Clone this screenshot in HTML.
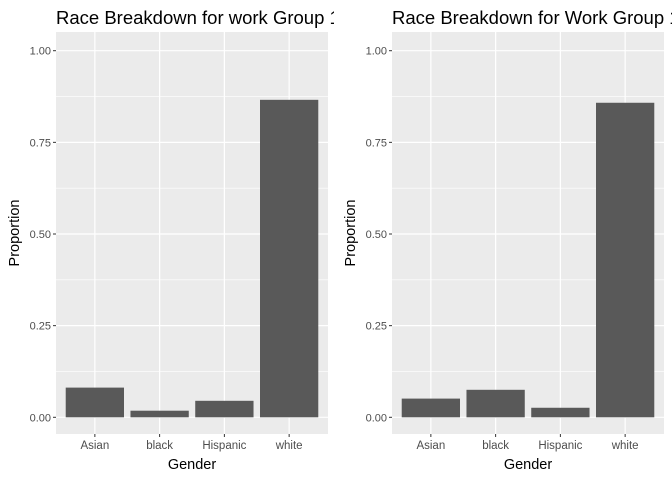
<!DOCTYPE html>
<html><head><meta charset="utf-8"><style>
body{margin:0;background:#fff;}
text{font-family:"Liberation Sans",Arial,sans-serif;}
</style></head><body>
<svg id="chart" width="672" height="480" xmlns="http://www.w3.org/2000/svg"></svg>
<script>
const categories = ["Asian","black","Hispanic","white"];
const leftValues = [0.081,0.018,0.045,0.866];
const rightValues = [0.051,0.075,0.026,0.858];
const yTicks = [0,0.25,0.5,0.75,1.0];
const yTickLabels = ["0.00","0.25","0.50","0.75","1.00"];
const titles = ["Race Breakdown for work Group 17","Race Breakdown for Work Group 18"];

const NS="http://www.w3.org/2000/svg";
const svg=document.getElementById('chart');
function mk(tag,attrs,parent,txt){const e=document.createElementNS(NS,tag);for(const k in attrs)e.setAttribute(k,attrs[k]);if(txt!==undefined)e.textContent=txt;(parent||svg).appendChild(e);return e;}

const defs=mk('defs',{});
function panel(idx,x0,x1,values,clipRight){
  const g=mk('g',{});
  
  
  const top=32,bottom=434;
  const yScale=v=>417.3-v*366.6;
  const band=(x1-x0)/4.2;
  const xScale=i=>x0+band*(0.6+i);
  const cp=mk('clipPath',{id:'clip'+idx},defs);
  mk('rect',{x:0,y:0,width:clipRight,height:480},cp);
  const t=mk('text',{x:x0,y:24,'font-size':18.5,fill:'#000','clip-path':'url(#clip'+idx+')'},g,titles[idx]);
  
  
  const bg=mk('rect',{x:x0,y:top,width:x1-x0,height:bottom-top,fill:'#ebebeb'},g);
  
  
  for(let i=0;i<yTicks.length-1;i++){
    const m=(yTicks[i]+yTicks[i+1])/2;
    mk('line',{x1:x0,x2:x1,y1:yScale(m),y2:yScale(m),stroke:'#fff','stroke-width':0.6},g);
  }
  yTicks.forEach((v,i)=>{
    const y=yScale(v);
    mk('line',{x1:x0,x2:x1,y1:y,y2:y,stroke:'#fff','stroke-width':1.2},g);
    mk('line',{x1:x0-3,x2:x0,y1:y,y2:y,stroke:'#333','stroke-width':1},g);
    const l=mk('text',{x:x0-5,y:y+4,'font-size':11,fill:'#4d4d4d','text-anchor':'end'},g,yTickLabels[i]);
    
    
  });
  categories.forEach((c,i)=>{
    const cx=xScale(i);
    mk('line',{x1:cx,x2:cx,y1:top,y2:bottom,stroke:'#fff','stroke-width':1.2},g);
  });
  categories.forEach((c,i)=>{
    const cx=xScale(i),w=band*0.9;
    const b=mk('rect',{x:cx-w/2,y:yScale(values[i]),width:w,height:yScale(0)-yScale(values[i]),fill:'#595959'},g);
    
    
    mk('line',{x1:cx,x2:cx,y1:bottom,y2:bottom+3,stroke:'#333','stroke-width':1},g);
    const l=mk('text',{x:cx,y:bottom+15,'font-size':11.5,fill:'#4d4d4d','text-anchor':'middle'},g,c);
    
    
  });
  const xt=mk('text',{x:(x0+x1)/2,y:469,'font-size':14.5,fill:'#000','text-anchor':'middle'},g,'Gender');
  
  
  const yc=(top+bottom)/2;
  const yt=mk('text',{x:x0-37,y:yc,'font-size':14.5,fill:'#000','text-anchor':'middle',transform:`rotate(-90 ${x0-37} ${yc})`},g,'Proportion');
  
  
}
panel(0,56,328,leftValues,334);
panel(1,392,664,rightValues,672);
</script>
</body></html>
